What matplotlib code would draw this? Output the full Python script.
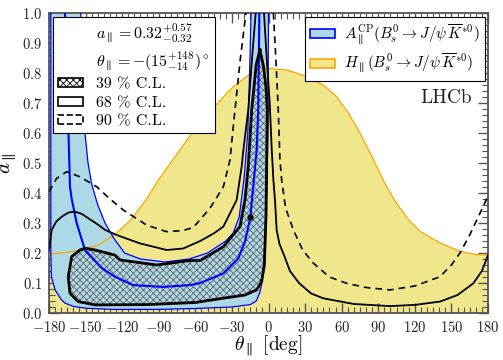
import matplotlib
matplotlib.use("Agg")
import matplotlib.pyplot as plt
import matplotlib.patches as mpatches
from matplotlib.ticker import MultipleLocator

plt.rcParams['font.family'] = 'cmr10'
plt.rcParams['mathtext.fontset'] = 'cm'
plt.rcParams['axes.formatter.use_mathtext'] = True
plt.rcParams['hatch.linewidth'] = 0.6

# H_par(Bs -> J/psi K*0) upper edge (theta [deg], a_par)
h_theta = [-180, -160, -140, -125, -113, -100, -90, -75, -60, -45, -30, -15, 0,
           15, 30, 45, 55, 65, 75, 85, 95, 105, 115, 125, 140, 157, 170, 180]
h_a = [0.195, 0.205, 0.225, 0.265, 0.31, 0.38, 0.445, 0.53, 0.615, 0.685, 0.75, 0.798, 0.815,
       0.81, 0.79, 0.76, 0.725, 0.67, 0.6, 0.52, 0.435, 0.365, 0.31, 0.27, 0.235, 0.205, 0.195, 0.193]

# A_par^CP band: outer edge and inner edge
acp_out_theta = [-178.5, -178.5, -178, -175, -170, -167, -160, -150, -128, -90, -60, -30,
                 -15, -10, -7, -5.5, -4, -3, -1.5, -0.5, 0]
acp_out_a = [1.0, 0.2, 0.12, 0.077, 0.045, 0.033, 0.022, 0.016, 0.012, 0.012, 0.015, 0.02,
             0.028, 0.04, 0.07, 0.1, 0.16, 0.22, 0.4, 0.6, 1.0]
acp_in_theta = [-14.3, -15.5, -17, -20, -24, -29, -35, -50, -65, -85, -105, -118, -127,
                -134, -140, -145, -148, -150.5, -152, -154]
acp_in_a = [1.0, 0.8, 0.6, 0.45, 0.32, 0.266, 0.24, 0.2, 0.18, 0.17, 0.18, 0.2, 0.25,
            0.3, 0.36, 0.43, 0.5, 0.6, 0.84, 1.0]
acp_mid_theta = [-166.9, -165.5, -164, -162.8, -161.4, -157.3, -150.5, -136.8, -125.9, -111,
                 -86.5, -64.4, -56, -37, -24.8, -19.3, -15, -9.7, -8.4, -7.5]
acp_mid_a = [1.0, 0.843, 0.6, 0.421, 0.38, 0.3, 0.21, 0.15, 0.121, 0.093,
             0.087, 0.093, 0.1, 0.132, 0.182, 0.238, 0.316, 0.543, 0.677, 1.0]

# 39% C.L. contour (closed)
c39_theta = [-7, -4, -2, -1, -1.5, -2, -3.4, -5.6, -9.7, -19.3, -36, -60, -100, -142, -156,
             -162.8, -164.2, -161.4, -154.6, -150.5, -142.3, -125.9, -121.8, -91.7, -64.4,
             -56, -37, -23.4, -19.3, -16.6, -13.8, -10, -7]
c39_a = [0.877, 0.82, 0.75, 0.677, 0.5, 0.33, 0.16, 0.105, 0.077, 0.06, 0.05, 0.035, 0.028,
         0.027, 0.038, 0.066, 0.121, 0.188, 0.21, 0.216, 0.21, 0.193, 0.177, 0.16, 0.175,
         0.175, 0.221, 0.288, 0.377, 0.488, 0.677, 0.83, 0.877]

# 68% C.L. contour, two branches
c68l_theta = [-180, -177.8, -174, -169.6, -164, -158.7, -153, -147.8, -140, -134, -124.5,
              -105.4, -83.5, -70, -56, -45, -37, -26.1, -22, -20.6, -16.6, -13.5, -10.5]
c68l_a = [0.21, 0.277, 0.305, 0.321, 0.335, 0.338, 0.33, 0.316, 0.295, 0.277, 0.26,
          0.232, 0.21, 0.215, 0.24, 0.265, 0.288, 0.377, 0.488, 0.543, 0.677, 0.85, 1.0]
c68r_theta = [-3.7, -1.5, 1, 2.6, 4, 5.3, 6.7, 9, 13, 17.6, 25, 35, 44.9, 70, 99.6, 120,
              140.6, 155, 168, 175, 180]
c68r_a = [1.0, 0.85, 0.7, 0.55, 0.443, 0.377, 0.277, 0.23, 0.19, 0.14, 0.1, 0.065, 0.049,
          0.03, 0.023, 0.027, 0.038, 0.06, 0.099, 0.14, 0.193]

# 90% C.L. contour, two branches
c90l_theta = [-180, -173.7, -165.5, -154.6, -140.9, -130, -119, -99.9, -83.5, -70, -61.7,
              -48, -37, -31.6, -27.5, -23, -18.5]
c90l_a = [0.404, 0.449, 0.471, 0.454, 0.421, 0.38, 0.343, 0.293, 0.271, 0.275, 0.285,
          0.349, 0.421, 0.51, 0.677, 0.85, 1.0]
c90r_theta = [4, 6, 8, 9.4, 10.8, 14, 20.4, 28, 36.8, 50, 64.1, 80, 99.6, 120, 140.6, 150,
              157, 165, 172, 180]
c90r_a = [1.0, 0.85, 0.677, 0.51, 0.443, 0.35, 0.277, 0.21, 0.166, 0.12, 0.099, 0.085,
          0.077, 0.09, 0.121, 0.16, 0.2, 0.26, 0.32, 0.39]

best_theta = -15
best_a = 0.32

fig = plt.figure(figsize=(5.03, 3.6), dpi=100)
ax = fig.add_axes([49 / 503, 1 - 313 / 360, 439 / 503, 300 / 360])

ax.fill_between(h_theta, 0, h_a, facecolor='#F0E68C', edgecolor='none', zorder=1)

acp_poly_theta = acp_out_theta + acp_in_theta
acp_poly_a = acp_out_a + acp_in_a
ax.fill(acp_poly_theta, acp_poly_a, facecolor='#ADD8E6', edgecolor='none', zorder=2)

ax.fill(c39_theta, c39_a, facecolor='none', edgecolor='#666666', hatch='xxxxx',
        linewidth=0, zorder=3)

ax.plot(h_theta, h_a, color='#FFA500', lw=0.9, zorder=4)
ax.plot(acp_out_theta, acp_out_a, color='#0000FF', lw=0.9, zorder=4)
ax.plot(acp_in_theta, acp_in_a, color='#0000FF', lw=0.9, zorder=4)
ax.plot(acp_mid_theta, acp_mid_a, color='#0000FF', lw=1.5, zorder=4)

ax.plot(c39_theta, c39_a, color='black', lw=2.0, zorder=5)
ax.plot(c68l_theta, c68l_a, color='black', lw=1.3, zorder=5)
ax.plot(c68r_theta, c68r_a, color='black', lw=1.3, zorder=5)
ax.plot(c90l_theta, c90l_a, color='black', lw=1.2, ls=(0, (4, 3)), zorder=5)
ax.plot(c90r_theta, c90r_a, color='black', lw=1.2, ls=(0, (4, 3)), zorder=5)
ax.plot([best_theta], [best_a], 'o', color='black', ms=3.5, zorder=6)

ax.set_xlim(-180, 180)
ax.set_ylim(0, 1)
ax.xaxis.set_major_locator(MultipleLocator(30))
ax.xaxis.set_minor_locator(MultipleLocator(5))
ax.yaxis.set_major_locator(MultipleLocator(0.1))
ax.yaxis.set_minor_locator(MultipleLocator(0.02))
ax.tick_params(which='both', direction='in', top=True, right=True, color='#555555',
               labelsize=10.5, labelcolor='#222222')
ax.tick_params(which='major', length=7, width=1)
ax.tick_params(which='minor', length=4, width=0.8)
ax.tick_params(axis='x', pad=5)
ax.tick_params(axis='y', pad=5)
for s in ax.spines.values():
    s.set_color('#555555')
    s.set_linewidth(1.3)

ax.set_xlabel(r'$\theta_\parallel$ [deg]', fontsize=14, labelpad=-1)
ax.set_ylabel(r'$a_\parallel$', fontsize=15, labelpad=2)

ax.text(0.905, 0.715, 'LHCb', transform=ax.transAxes, fontsize=14, ha='center',
        va='center', color='#222222')

blank = mpatches.Rectangle((0, 0), 1, 1, visible=False)
h39 = mpatches.Patch(facecolor='white', edgecolor='black', hatch='xxxxx', lw=1.2)
h68 = mpatches.Patch(facecolor='white', edgecolor='black', lw=1.2)
h90 = mpatches.Patch(facecolor='white', edgecolor='black', lw=1.2, ls='--')
leg1 = ax.legend([blank, blank, h39, h68, h90],
                 [r'$a_\parallel = 0.32^{+0.57}_{-0.32}$',
                  r'$\theta_\parallel = -(15^{+148}_{-14})^\circ$',
                  '39 % C.L.', '68 % C.L.', '90 % C.L.'],
                 loc='upper left', bbox_to_anchor=(0.009, 0.987), borderaxespad=0,
                 fontsize=11.5, fancybox=False, framealpha=1, edgecolor='black',
                 handlelength=1.6, handleheight=0.5, handletextpad=0.8,
                 labelspacing=0.3, borderpad=0.3)
leg1.get_frame().set_linewidth(0.8)
ax.add_artist(leg1)

ha = mpatches.Patch(facecolor='#ADD8E6', edgecolor='#0000FF', lw=1.2)
hh = mpatches.Patch(facecolor='#F0E68C', edgecolor='#FFA500', lw=1.2)
leg2 = ax.legend([ha, hh],
                 [r'$A_\parallel^{\mathrm{CP}}(B_s^0 \to J/\psi\,\overline{K}^{*0})$',
                  r'$H_\parallel(B_s^0 \to J/\psi\,\overline{K}^{*0})$'],
                 loc='upper right', bbox_to_anchor=(0.993, 0.987), borderaxespad=0,
                 fontsize=11, fancybox=False, framealpha=1, edgecolor='black',
                 handlelength=1.6, handleheight=0.5, handletextpad=0.6,
                 labelspacing=0.35, borderpad=0.35)
leg2.get_frame().set_linewidth(0.8)

fig.savefig('out.png', dpi=100)
